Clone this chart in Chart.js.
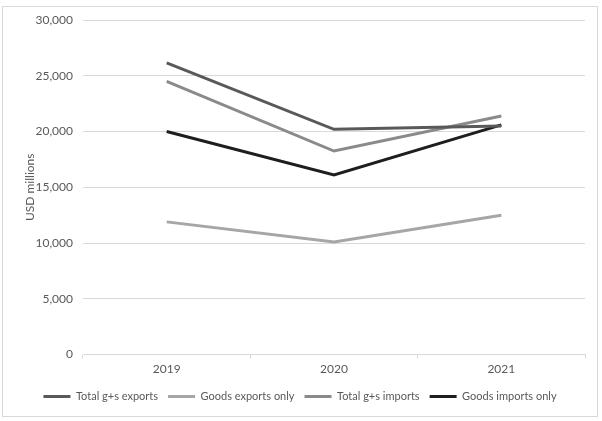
<!DOCTYPE html>
<html>
<head>
<meta charset="utf-8">
<script src="https://cdn.jsdelivr.net/npm/chart.js@4/dist/chart.umd.min.js"></script>
<style>
html,body{margin:0;padding:0;background:#fff;}
#wrap{position:absolute;left:0;top:0;width:602px;height:421px;}
</style>
</head>
<body>
<div id="wrap"><canvas id="c" width="602" height="421"></canvas></div>
<script>
const categories = ["2019", "2020", "2021"];
const totalExports = [26150, 20200, 20500];
const goodsExports = [11900, 10100, 12500];
const totalImports = [24500, 18250, 21400];
const goodsImports = [20000, 16100, 20600];
const seriesNames = ["Total g+s exports", "Goods exports only", "Total g+s imports", "Goods imports only"];
const yTicks = [0, 5000, 10000, 15000, 20000, 25000, 30000];

const FONT = "Lato, 'Open Sans', sans-serif";
const txt = "#595959";

const borderPlugin = {
  id: 'frame',
  beforeDraw(chart) {
    const ctx = chart.ctx;
    ctx.save();
    ctx.fillStyle = '#fff';
    ctx.fillRect(0, 0, chart.width, chart.height);
    ctx.strokeStyle = '#d9d9d9';
    ctx.lineWidth = 1;
    ctx.strokeRect(2.5, 6.5, 595, 410);
    ctx.restore();
  }
};

function ds(label, data, color) {
  return {
    label, data,
    borderColor: color, backgroundColor: color,
    borderWidth: 3, pointRadius: 0, pointHoverRadius: 0,
    tension: 0, fill: false
  };
}

new Chart(document.getElementById('c'), {
  type: 'line',
  data: {
    labels: categories,
    datasets: [
      ds(seriesNames[0], totalExports, '#595959'),
      ds(seriesNames[1], goodsExports, '#a6a6a6'),
      ds(seriesNames[2], totalImports, '#8a8a8a'),
      ds(seriesNames[3], goodsImports, '#1e1e1e')
    ]
  },
  options: {
    responsive: false,
    animation: false,
    devicePixelRatio: 1,
    layout: { padding: { left: 15, right: 17, top: 20, bottom: 9 } },
    plugins: {
      tooltip: { enabled: false },
      legend: {
        position: 'bottom',
        labels: {
          font: { family: FONT, size: 11 },
          color: txt,
          usePointStyle: true,
          pointStyle: 'line',
          pointStyleWidth: 27,
          padding: 10,
          boxHeight: 11
        }
      }
    },
    scales: {
      x: {
        offset: true,
        afterFit(scale) { scale.height += 2; },
        grid: {
          offset: true,
          drawOnChartArea: false,
          drawTicks: true,
          tickLength: 4,
          color: '#d9d9d9'
        },
        border: { display: true, color: '#d9d9d9', width: 1 },
        ticks: { font: { family: FONT, size: 12 }, color: txt, padding: 3 }
      },
      y: {
        min: 0, max: 30000,
        afterBuildTicks(scale) { scale.ticks = yTicks.map(v => ({ value: v })); },
        afterFit(scale) { scale.width = 68; },
        grid: { color: '#d9d9d9', drawTicks: false },
        border: { display: false },
        ticks: {
          font: { family: FONT, size: 12 }, color: txt, padding: 10,
          callback: v => v.toLocaleString('en-US')
        },
        title: {
          display: true, text: 'USD millions',
          font: { family: FONT, size: 12 }, color: txt,
          padding: { top: 8, bottom: 0 }
        }
      }
    }
  },
  plugins: [borderPlugin]
});
</script>
</body>
</html>
